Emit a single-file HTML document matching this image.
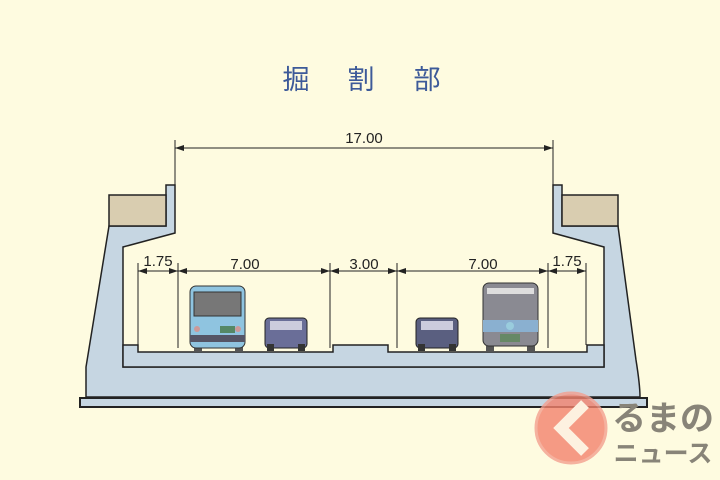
<!DOCTYPE html>
<html><head><meta charset="utf-8"><style>
html,body{margin:0;padding:0;background:#fefbe0;}
svg{display:block}
</style></head><body>
<svg width="720" height="480" viewBox="0 0 720 480" xmlns="http://www.w3.org/2000/svg">
<rect width="720" height="480" fill="#fefbe0"/>
<g font-family="'Liberation Sans','Noto Sans CJK JP',sans-serif" font-size="27" fill="#3d5a99" text-anchor="middle">
<text x="296" y="89">掘</text><text x="361" y="89">割</text><text x="427" y="89">部</text>
</g>
<!-- 17.00 dimension -->
<g stroke="#222" stroke-width="1" fill="none">
<line x1="175" y1="140" x2="175" y2="186"/>
<line x1="553" y1="140" x2="553" y2="186"/>
<line x1="175" y1="148" x2="553" y2="148"/>
</g>
<polygon points="175,148 184,145 184,151" fill="#222"/>
<polygon points="553,148 544,145 544,151" fill="#222"/>
<text x="364" y="143" text-anchor="middle" font-family="'Liberation Sans',sans-serif" font-size="15" fill="#222">17.00</text>
<!-- concrete -->
<path d="M109,226 L166,226 L166,185 L175,185 L175,233 L123,247 L123,367 L604,367 L604,247 L553,233 L553,185 L562,185 L562,226 L618,226 L636,360 Q640,385 640,397 L86,397 L86,367 Z" fill="#c6d6e2" stroke="#222" stroke-width="1.5"/>
<!-- road deck -->
<path d="M123,345 L138,345 L138,352 L333,352 L333,345 L388,345 L388,352 L587,352 L587,345 L604,345 L604,367 L123,367 Z" fill="#c6d6e2" stroke="#222" stroke-width="1.5"/>
<rect x="109" y="195" width="57" height="31" fill="#d9cdb0" stroke="#222" stroke-width="1.5"/>
<rect x="562" y="195" width="56" height="31" fill="#d9cdb0" stroke="#222" stroke-width="1.5"/>
<rect x="80" y="398" width="567" height="9" fill="#c6d6e2" stroke="#222" stroke-width="2"/>
<!-- lane dims -->
<g stroke="#222" stroke-width="1">
<line x1="138" y1="263" x2="138" y2="345"/>
<line x1="178" y1="263" x2="178" y2="348"/>
<line x1="330" y1="263" x2="330" y2="348"/>
<line x1="397" y1="263" x2="397" y2="348"/>
<line x1="548" y1="263" x2="548" y2="348"/>
<line x1="586" y1="263" x2="586" y2="345"/>
<line x1="138" y1="271" x2="586" y2="271"/>
</g>
<g fill="#222">
<polygon points="138,271 147,268 147,274"/><polygon points="178,271 169,268 169,274"/>
<polygon points="178,271 187,268 187,274"/><polygon points="330,271 321,268 321,274"/>
<polygon points="330,271 339,268 339,274"/><polygon points="397,271 388,268 388,274"/>
<polygon points="397,271 406,268 406,274"/><polygon points="548,271 539,268 539,274"/>
<polygon points="548,271 557,268 557,274"/><polygon points="586,271 577,268 577,274"/>
</g>
<g font-family="'Liberation Sans',sans-serif" font-size="15" fill="#222" text-anchor="middle">
<text x="158" y="266">1.75</text><text x="245" y="269">7.00</text>
<text x="364" y="269">3.00</text><text x="483" y="269">7.00</text>
<text x="567" y="266">1.75</text>
</g>
<!-- left bus -->
<rect x="194" y="346" width="8" height="6" fill="#555"/><rect x="235" y="346" width="8" height="6" fill="#555"/>
<rect x="190" y="286" width="55" height="62" rx="6" fill="#8fc4e0" stroke="#333"/>
<rect x="194" y="292" width="47" height="24" fill="#777" stroke="#333"/>
<rect x="190" y="335" width="55" height="7" fill="#556"/>
<rect x="220" y="326" width="15" height="7" fill="#586"/>
<circle cx="197" cy="329" r="3" fill="#c99"/><circle cx="238" cy="329" r="3" fill="#c99"/>
<!-- left car -->
<rect x="265" y="318" width="42" height="30" rx="4" fill="#6a6e98" stroke="#222"/>
<rect x="270" y="321" width="32" height="9" fill="#ccd"/>
<rect x="267" y="344" width="7" height="7" fill="#333"/><rect x="298" y="344" width="7" height="7" fill="#333"/>
<!-- right car -->
<rect x="416" y="318" width="42" height="30" rx="4" fill="#5a5f80" stroke="#222"/>
<rect x="421" y="321" width="32" height="9" fill="#ccd"/>
<rect x="418" y="344" width="7" height="7" fill="#333"/><rect x="449" y="344" width="7" height="7" fill="#333"/>
<!-- right bus -->
<rect x="486" y="346" width="8" height="6" fill="#555"/><rect x="527" y="346" width="8" height="6" fill="#555"/>
<rect x="483" y="283" width="55" height="63" rx="6" fill="#8a8a92" stroke="#333"/>
<rect x="487" y="288" width="47" height="6" fill="#ddd"/>
<rect x="483" y="320" width="55" height="12" fill="#8ab0d0"/>
<circle cx="510" cy="326" r="4" fill="#9cd"/>
<rect x="500" y="334" width="20" height="8" fill="#686"/>
<!-- watermark -->
<circle cx="571" cy="428" r="35" fill="#f4836e" opacity="0.8" stroke="#f4a090" stroke-width="3"/>
<polyline points="585,404 561,428 585,452" fill="none" stroke="#fdf1e0" stroke-width="11" stroke-linejoin="miter"/>
<text x="663" y="430" text-anchor="middle" font-family="'Noto Sans CJK JP',sans-serif" font-weight="bold" font-size="34" fill="#888478">るまの</text>
<text x="663" y="462" text-anchor="middle" font-family="'Noto Sans CJK JP',sans-serif" font-weight="bold" font-size="25" fill="#888478">ニュース</text>
</svg>
</body></html>
